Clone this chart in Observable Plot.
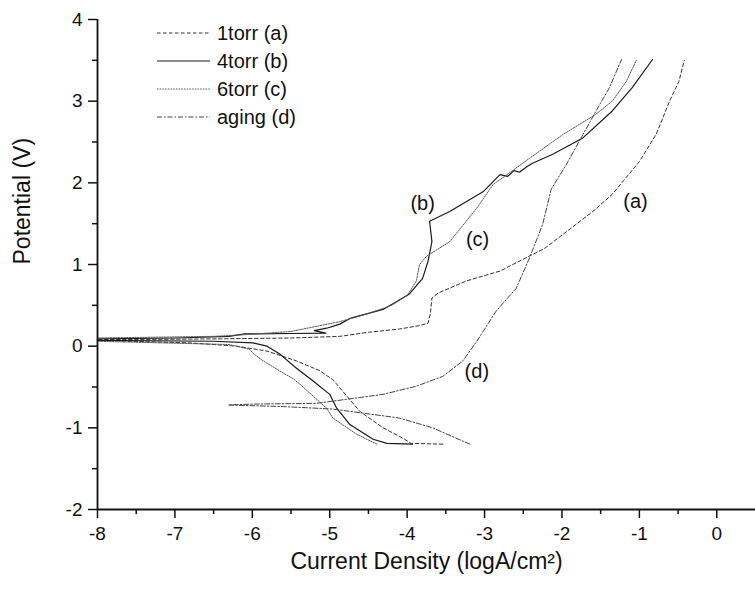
<!DOCTYPE html>
<html><head><meta charset="utf-8">
<script src="https://cdn.jsdelivr.net/npm/d3@7"></script>
<script src="https://cdn.jsdelivr.net/npm/@observablehq/plot@0.6"></script>
<style>
body{margin:0;background:#fff;font-family:"Liberation Sans",Arial,sans-serif;}
#wrap{position:relative;width:755px;height:591px;overflow:hidden;}
#legend{position:absolute;left:0;top:0;}
</style></head><body><div id="wrap"></div>
<script>
// ---- data ----
const seriesNames = ["1torr (a)", "4torr (b)", "6torr (c)", "aging (d)"];
const xTicks = [-8, -7, -6, -5, -4, -3, -2, -1, 0];
const xMinor = [-7.5, -6.5, -5.5, -4.5, -3.5, -2.5, -1.5, -0.5];
const yTicks = [-2, -1, 0, 1, 2, 3, 4];
const yMinor = [-1.5, -0.5, 0.5, 1.5, 2.5, 3.5];

// 1torr (a): cathodic branch -> corrosion -> anodic branch
const aX = [-3.54, -3.95, -4.05, -4.31, -4.61, -4.96, -5.13, -5.43, -5.81, -6.2, -6.8, -8,
            -8, -7, -6.4, -5.5, -4.87, -4.5, -4.1, -3.85, -3.73, -3.7, -3.68, -3.6, -3.23, -2.8, -2.22, -1.6, -1.35, -1.0, -0.78, -0.61, -0.49, -0.42];
const aY = [-1.2, -1.19, -1.13, -1.0, -0.8, -0.41, -0.3, -0.18, -0.06, 0.0, 0.04, 0.07,
            0.08, 0.085, 0.09, 0.1, 0.12, 0.17, 0.21, 0.25, 0.28, 0.4, 0.59, 0.65, 0.8, 0.92, 1.2, 1.65, 1.86, 2.26, 2.6, 3.0, 3.24, 3.5];

// 4torr (b)
const bX = [-3.93, -4.26, -4.44, -4.74, -4.91, -5.0, -5.21, -5.43, -5.64, -5.81, -5.99, -6.5, -8,
            -8, -7, -6.3, -6.1, -5.5, -5.05, -5.2, -5.04, -4.87, -4.74, -4.31, -3.97, -3.8, -3.73, -3.68, -3.71, -3.45, -3.02, -2.8, -2.7, -2.62, -2.55, -2.45, -2.38, -2.12, -1.73, -1.35, -1.09, -0.83];
const bY = [-1.2, -1.19, -1.14, -0.96, -0.76, -0.59, -0.43, -0.27, -0.1, 0.0, 0.04, 0.06, 0.07,
            0.09, 0.1, 0.12, 0.15, 0.155, 0.16, 0.19, 0.22, 0.27, 0.34, 0.45, 0.64, 0.83, 1.04, 1.28, 1.53, 1.65, 1.89, 2.1, 2.08, 2.15, 2.13, 2.2, 2.24, 2.35, 2.55, 2.88, 3.17, 3.51];

// 6torr (c)
const cX = [-4.39, -4.65, -4.96, -5.04, -5.38, -5.47, -5.6, -5.86, -5.99, -6.03, -6.3, -8,
            -8, -6.5, -6.1, -5.5, -4.87, -4.5, -4.2, -4.0, -3.88, -3.84, -3.75, -3.45, -3.1, -2.89, -2.71, -2.42, -1.99, -1.56, -1.35, -1.17, -1.04];
const cY = [-1.2, -1.08, -0.88, -0.76, -0.47, -0.4, -0.33, -0.18, -0.09, -0.04, 0.02, 0.06,
            0.1, 0.12, 0.14, 0.18, 0.3, 0.4, 0.5, 0.62, 0.8, 1.0, 1.1, 1.28, 1.69, 1.98, 2.1, 2.3, 2.59, 2.84, 3.0, 3.24, 3.5];

// aging (d)
const dX = [-3.19, -3.67, -4.1, -4.96, -5.6, -6.31,
            -6.03, -5.17, -4.31, -3.88, -3.54, -3.28, -3.1, -2.85, -2.59, -2.42, -2.25, -2.14, -1.94, -1.73, -1.56, -1.39, -1.23];
const dY = [-1.2, -1.0, -0.88, -0.77, -0.74, -0.72,
            -0.71, -0.70, -0.59, -0.49, -0.37, -0.18, 0.06, 0.43, 0.71, 1.08, 1.49, 1.92, 2.23, 2.59, 2.88, 3.16, 3.51];

// curve annotations
const noteText = ["(a)", "(b)", "(c)", "(d)"];
const noteX = [-1.05, -3.8, -3.09, -3.1];
const noteY = [1.77, 1.74, 1.31, -0.31];

// ---- styles ----
const FONT = "'Liberation Sans', Arial, sans-serif";
const styles = [
  {stroke: "#333", dash: "3.5,2.5", width: 1},
  {stroke: "#1a1a1a", dash: null, width: 1.2},
  {stroke: "#5a5a5a", dash: "1.5,1.2", width: 1},
  {stroke: "#444", dash: "5,2,1.5,2", width: 1}
];
const xs = [aX, bX, cX, dX], ys = [aY, bY, cY, dY];
const curves = xs.map((X, k) => X.map((x, i) => ({x, y: ys[k][i]})));
const notes = noteText.map((t, i) => ({t, x: noteX[i], y: noteY[i]}));

const plot = Plot.plot({
  width: 755, height: 591,
  marginTop: 19, marginLeft: 97, marginRight: 0, marginBottom: 82,
  x: {domain: [-8, 0.5]},
  y: {domain: [-2, 4]},
  style: {fontFamily: FONT, fontSize: "19px", color: "#000", background: "#fff", overflow: "visible"},
  marks: [
    Plot.axisX({ticks: xTicks, tickSize: 9, tickPadding: 8, tickFormat: d => String(d), label: null, strokeWidth: 1.5, stroke: "#111", fill: "#111"}),
    Plot.axisX({ticks: xMinor, tickSize: 5, tickFormat: () => "", label: null, strokeWidth: 1.5, stroke: "#111"}),
    Plot.axisY({ticks: yTicks, tickSize: 9, tickPadding: 6, tickFormat: d => String(d), label: null, strokeWidth: 1.5, stroke: "#111", fill: "#111"}),
    Plot.axisY({ticks: yMinor, tickSize: 5, tickFormat: () => "", label: null, strokeWidth: 1.5, stroke: "#111"}),
    ...curves.map((c, k) => Plot.line(c, {x: "x", y: "y", stroke: styles[k].stroke, strokeWidth: styles[k].width, strokeDasharray: styles[k].dash})),
    Plot.ruleX([-8], {stroke: "#111", strokeWidth: 1.8}),
    Plot.ruleY([-2], {stroke: "#111", strokeWidth: 1.8}),
    Plot.text(notes, {x: "x", y: "y", text: "t", fontSize: 20, fill: "#111", textAnchor: "middle"}),
    Plot.text(["Current Density (logA/cm²)"], {frameAnchor: "bottom", dy: 59, fontSize: 23, fill: "#111"}),
    Plot.text(["Potential (V)"], {frameAnchor: "left", dx: -75, rotate: -90, fontSize: 23, fill: "#111"})
  ]
});
const wrap = document.getElementById("wrap");
wrap.appendChild(plot);

// legend overlay
const lg = d3.select(wrap).append("svg").attr("id", "legend").attr("width", 400).attr("height", 140);
seriesNames.forEach((name, k) => {
  const y = 33 + k * 28;
  lg.append("line").attr("x1", 157).attr("x2", 210).attr("y1", y).attr("y2", y)
    .attr("stroke", styles[k].stroke).attr("stroke-width", styles[k].width)
    .attr("stroke-dasharray", styles[k].dash);
  lg.append("text").attr("x", 217).attr("y", y).attr("dy", "0.35em")
    .attr("font-family", FONT).attr("font-size", 20).attr("fill", "#111").text(name);
});
</script>
</body></html>
